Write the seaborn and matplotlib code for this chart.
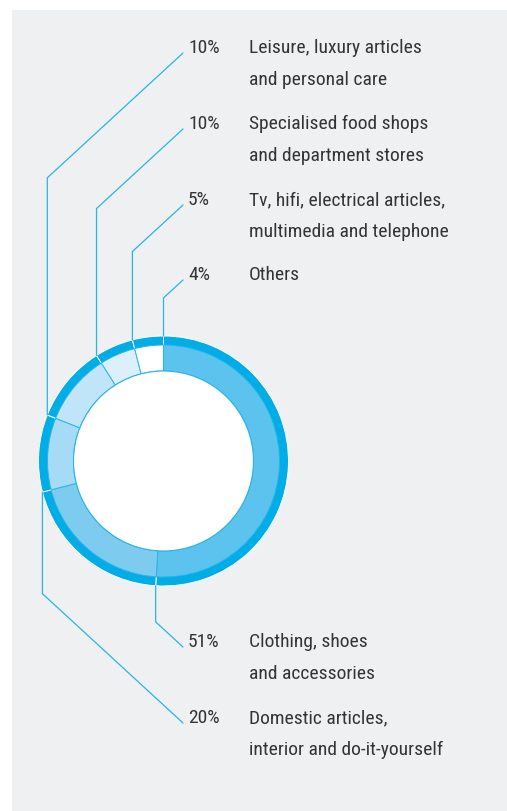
import numpy as np
import matplotlib
matplotlib.use("Agg")
import matplotlib.pyplot as plt
import seaborn as sns
from matplotlib.patches import Rectangle, Circle

# Data
categories = ["Clothing, shoes\nand accessories",
              "Domestic articles,\ninterior and do-it-yourself",
              "Leisure, luxury articles\nand personal care",
              "Specialised food shops\nand department stores",
              "Tv, hifi, electrical articles,\nmultimedia and telephone",
              "Others"]
shares = [51, 20, 10, 10, 5, 4]
pct_labels = ["51%", "20%", "10%", "10%", "5%", "4%"]

# Layout (pixels, top-left origin)
W, H = 507, 811
cx, cy = 163.5, 461
r_outer, r_band, r_inner = 125, 116, 90
text_baseline = [647, 723, 53, 129, 205, 280]
goes_down = [True, True, False, False, False, False]
pct_x, label_x, line_end_x = 188, 249, 183
line_h = 32
font_size = 14

seg_colors = ["#5bc3ed", "#7ecbf0", "#a6dbf5", "#c0e5f8", "#dcf0fb", "#ffffff"]
ring_color = "#00ade6"
line_color = "#2ab4e6"
text_color = "#343434"
bg_color = "#eff0f2"

sns.set_theme(style="white")
plt.rcParams["font.family"] = ["Roboto Condensed", "DejaVu Sans"]

fig = plt.figure(figsize=(W / 100, H / 100), dpi=100)
fig.patch.set_facecolor("white")
ax = fig.add_axes([0, 0, 1, 1])


def fy(y):
    return H - y


# grey panel
ax.add_patch(Rectangle((12, 0), W - 12, H - 10, facecolor=bg_color, edgecolor="none", zorder=0))

# outer dark ring with white separators
ax.pie(shares, center=(cx, fy(cy)), radius=r_outer, startangle=90, counterclock=False,
       colors=[ring_color] * len(shares),
       wedgeprops=dict(width=r_outer - r_band + 1, edgecolor="white", linewidth=0.7),
       frame=True)
# coloured band
ax.pie(shares, center=(cx, fy(cy)), radius=r_band, startangle=90, counterclock=False,
       colors=seg_colors,
       wedgeprops=dict(width=r_band - r_inner, edgecolor=line_color, linewidth=0.7),
       frame=True)
ax.add_patch(Circle((cx, fy(cy)), r_inner, facecolor="white", edgecolor=line_color,
                    linewidth=0.8, zorder=3))
ax.set_xlim(0, W)
ax.set_ylim(0, H)
ax.set_aspect("equal")
ax.axis("off")

# leader lines and labels
cum = np.cumsum(shares)
slope = 0.92
for i, cat in enumerate(categories):
    theta = np.deg2rad(360 * cum[i] / sum(shares))
    x0 = cx + r_outer * np.sin(theta)
    y0 = cy - r_outer * np.cos(theta)
    yt = text_baseline[i]
    if goes_down[i]:
        ybend = yt - (line_end_x - x0) * slope
    else:
        ybend = yt + (line_end_x - x0) * slope
    ax.plot([x0, x0, line_end_x], [fy(y0), fy(ybend), fy(yt)],
            color=line_color, linewidth=0.9, solid_joinstyle="miter", zorder=4)

    ax.text(pct_x, fy(yt), pct_labels[i], ha="left", va="baseline",
            fontsize=font_size, color=text_color)
    for j, line in enumerate(cat.split("\n")):
        ax.text(label_x, fy(yt + j * line_h), line, ha="left", va="baseline",
                fontsize=font_size, color=text_color)

fig.savefig("out.png", dpi=100, facecolor=fig.get_facecolor())
